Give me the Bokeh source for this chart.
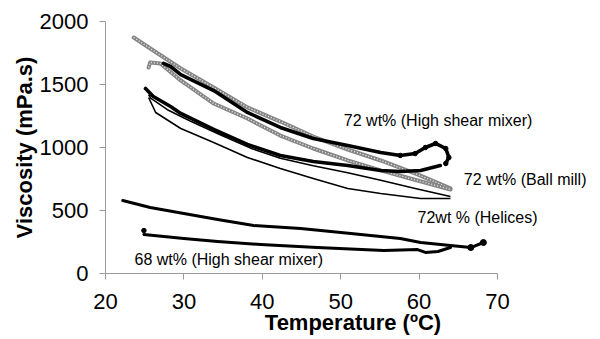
from bokeh.plotting import figure
from bokeh.models import Range1d, FixedTicker, ColumnDataSource, LabelSet
from bokeh.core.properties import value
from bokeh.embed import file_html
from bokeh.resources import INLINE

# ---------------- data ----------------
x_ticks = [20, 30, 40, 50, 60, 70]
y_ticks = [0, 500, 1000, 1500, 2000]

# 72 wt% (High shear mixer) - first branch with hook
hsm72_a_T = [27.4, 28.3, 29.6, 33.8, 38.1, 42.3, 46.5, 50.9, 55.1, 57.6, 59.5, 60.8, 62.1, 63.4, 63.8, 63.4]
hsm72_a_V = [1667, 1643, 1579, 1452, 1278, 1159, 1071, 1016, 960, 937, 952, 1000, 1032, 992, 921, 873]
# 72 wt% (High shear mixer) - return branch
hsm72_b_T = [62.7, 60.2, 57.6, 55.1, 50.9, 46.5, 42.3, 38.1, 33.8, 29.6, 28.3, 26.1, 25.1]
hsm72_b_V = [857, 818, 810, 818, 857, 889, 937, 1024, 1143, 1270, 1325, 1405, 1468]

# 72 wt% (Ball mill)
ball_a_T = [23.6, 26.1, 29.6, 33.8, 38.1, 42.3, 46.5, 50.9, 55.1, 59.8, 64.0]
ball_a_V = [1873, 1770, 1627, 1476, 1318, 1206, 1087, 984, 897, 786, 675]
ball_b_T = [25.5, 25.7, 27.0, 29.6, 33.8, 38.1, 42.3, 46.5, 50.9, 55.1, 59.8, 64.0]
ball_b_V = [1635, 1675, 1667, 1532, 1349, 1230, 1095, 992, 897, 818, 738, 667]

# 72 wt% (Helices)
hel_a_T = [25.5, 25.8, 27.9, 30.8, 34.7, 38.5, 42.3, 46.5, 50.9, 55.1, 59.5, 64.0]
hel_a_V = [1420, 1390, 1300, 1210, 1100, 995, 915, 855, 800, 740, 675, 611]
hel_b_T = [25.5, 26.4, 29.6, 33.8, 38.1, 42.3, 46.5, 50.9, 55.1, 60.2, 64.0]
hel_b_V = [1397, 1278, 1151, 1040, 921, 833, 754, 675, 635, 595, 595]

# 68 wt% (High shear mixer)
hsm68_a_T = [22.2, 25.7, 30.0, 34.3, 38.9, 44.9, 51.3, 57.6, 60.2, 64.0, 66.6, 68.2]
hsm68_a_V = [579, 524, 476, 429, 381, 357, 317, 278, 246, 222, 206, 246]
hsm68_b_T = [24.9, 30.0, 34.3, 39.8, 47.0, 55.5, 59.8, 60.8, 62.4, 64.0]
hsm68_b_V = [310, 278, 254, 230, 206, 183, 190, 167, 175, 206]
hsm68_start_T = [24.9]
hsm68_start_V = [341]

label_text = ["72 wt% (High shear mixer)", "72 wt% (Ball mill)", "72wt % (Helices)", "68 wt% (High shear mixer)"]
label_T = [50.4, 65.7, 59.8, 23.7]
label_V = [1214, 746, 444, 111]

# ---------------- figure ----------------
FONT = "Liberation Sans"
# frame runs to the right edge of the page so the labels right of 70 are not clipped;
# the x axis itself is bounded to 20..70
p = figure(width=600, height=339, output_backend="svg", toolbar_location=None,
           x_range=Range1d(20, 20 + 495 / 7.84), y_range=Range1d(0, 2000),
           min_border_left=105, min_border_right=0, min_border_top=21, min_border_bottom=66)
p.outline_line_color = None
p.grid.visible = False
p.background_fill_color = "white"
p.border_fill_color = "white"

xa = p.xaxis[0]
ya = p.yaxis[0]
xa.bounds = (x_ticks[0], x_ticks[-1])
xa.ticker = FixedTicker(ticks=x_ticks)
ya.ticker = FixedTicker(ticks=y_ticks)
xa.axis_label = "Temperature (ºC)"
ya.axis_label = "Viscosity (mPa.s)"
for ax in (xa, ya):
    ax.axis_line_color = "#9a9a9a"
    ax.axis_line_width = 1
    ax.major_tick_line_color = "#9a9a9a"
    ax.major_tick_out = 6
    ax.major_tick_in = 0
    ax.minor_tick_line_color = None
    ax.major_label_text_font = FONT
    ax.major_label_text_font_size = "22px"
    ax.major_label_text_color = "black"
    ax.axis_label_text_font = FONT
    ax.axis_label_text_font_size = "22px"
    ax.axis_label_text_font_style = "bold"
    ax.axis_label_text_color = "black"
xa.major_label_standoff = 14
xa.axis_label_standoff = -2
ya.major_label_standoff = 11
ya.axis_label_standoff = 0

# Ball mill (grey open circles look)
for T, V in ((ball_a_T, ball_a_V), (ball_b_T, ball_b_V)):
    p.line(T, V, line_color="#858585", line_width=4.0, line_join="round", line_cap="round")
    p.line(T, V, line_color="#ededed", line_width=1.4, line_dash="1 2", line_join="round")

# Helices (thin black)
for T, V in ((hel_a_T, hel_a_V), (hel_b_T, hel_b_V)):
    p.line(T, V, line_color="black", line_width=1.6, line_join="round")

# 72 wt% high shear mixer (thick black dots)
p.line(hsm72_a_T, hsm72_a_V, line_color="black", line_width=3.6, line_join="round", line_cap="round")
p.line(hsm72_b_T, hsm72_b_V, line_color="black", line_width=3.6, line_join="round", line_cap="round")
p.scatter(hsm72_a_T[9:], hsm72_a_V[9:], size=4.5, color="black")

# 68 wt% high shear mixer
p.line(hsm68_a_T, hsm68_a_V, line_color="black", line_width=3.0, line_join="round", line_cap="round")
p.line(hsm68_b_T, hsm68_b_V, line_color="black", line_width=3.0, line_join="round", line_cap="round")
p.scatter(hsm68_start_T, hsm68_start_V, size=4.5, color="black")
p.scatter(hsm68_a_T[-2:], hsm68_a_V[-2:], size=6, color="black")

src = ColumnDataSource(dict(x=label_T, y=label_V, t=label_text))
labels = LabelSet(x="x", y="y", text="t", source=src, text_font=value(FONT), text_font_size="16px",
                  text_align="left", text_baseline="middle", text_color="black")
p.add_layout(labels)

open("out.html", "w").write(file_html(p, INLINE))
